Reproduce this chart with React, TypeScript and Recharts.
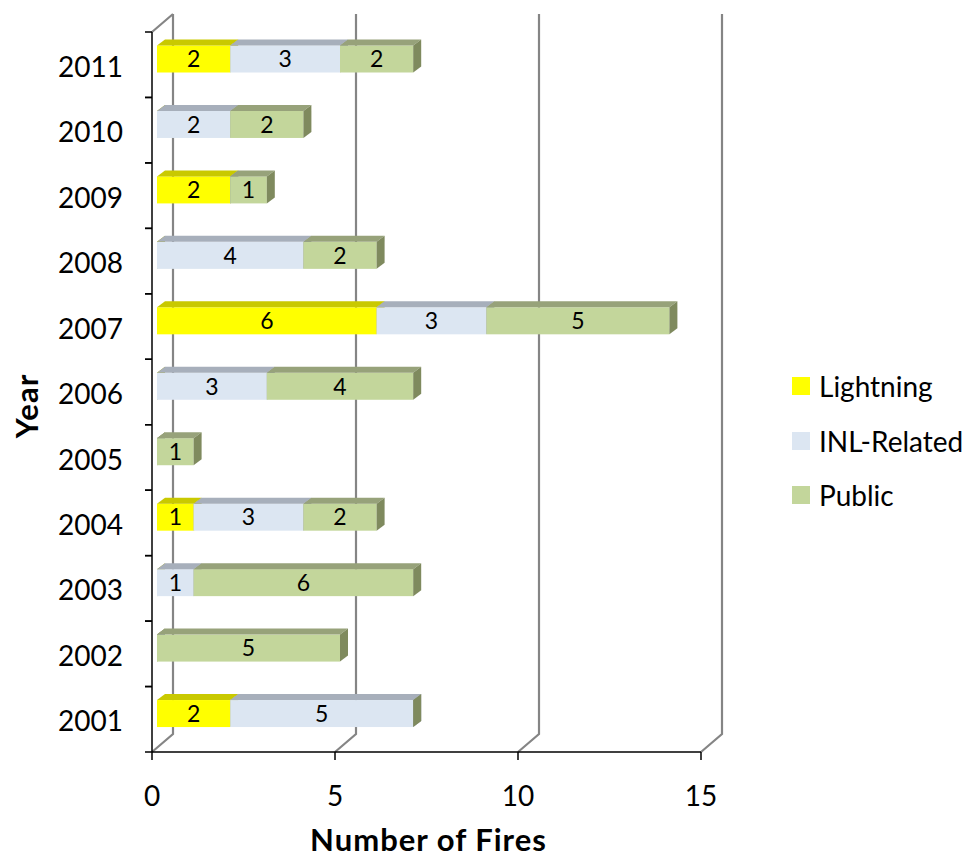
import React from 'react'
import { BarChart, Bar, XAxis, YAxis, CartesianGrid, Legend, LabelList, Label } from 'recharts'

const years = ['2001', '2002', '2003', '2004', '2005', '2006', '2007', '2008', '2009', '2010', '2011']
const lightning = [2, 0, 0, 1, 0, 0, 6, 0, 2, 0, 2]
const inlRelated = [5, 0, 1, 3, 0, 3, 3, 4, 0, 2, 3]
const publicFires = [0, 5, 6, 2, 1, 4, 5, 2, 1, 2, 2]
const xTicks = [0, 5, 10, 15]
const legendOrder = ['Lightning', 'INL-Related', 'Public']

const data = years.map((year, i) => ({
  year,
  lightning: lightning[i],
  inl: inlRelated[i],
  pub: publicFires[i],
}))

// layout of the fake 3d box (front plane = recharts plot area)
const W = 969
const H = 859
const PLOT_LEFT = 152
const PLOT_TOP = 32
const PLOT_BOTTOM = 752
const PLOT_RIGHT = 701
const Y_AXIS_W = 100
const X_AXIS_H = 60
const BAND = (PLOT_BOTTOM - PLOT_TOP) / years.length
const WALL_DX = 21
const WALL_DY = 18
const BAR_DX = 5
const BAR_DY = -5.5
const DEPTH_X = 8
const DEPTH_Y = 6
const FONT = 'Lato, "Open Sans", sans-serif'

const colors = {
  lightning: { front: '#FFFF00', top: '#C9C900', side: '#A8A800' },
  inl: { front: '#DCE6F2', top: '#A7AFBB', side: '#8E97A3' },
  pub: { front: '#C3D69B', top: '#97A27A', side: '#7F8A5E' },
}

const makeBox = (c: { front: string; top: string; side: string }) => (props: any) => {
  const { x, y, width, height } = props
  if (x == null || y == null) return <g />
  const x0 = x + BAR_DX
  const y0 = y + BAR_DY
  const w = Math.max(0, width || 0)
  const x1 = x0 + w
  return (
    <g>
      <rect x={x0} y={y0} width={w} height={height} fill={c.front} />
      <polygon
        points={`${x0},${y0} ${x0 + DEPTH_X},${y0 - DEPTH_Y} ${x1 + DEPTH_X},${y0 - DEPTH_Y} ${x1},${y0}`}
        fill={c.top}
      />
      <polygon
        points={`${x1},${y0} ${x1 + DEPTH_X},${y0 - DEPTH_Y} ${x1 + DEPTH_X},${y0 + height - DEPTH_Y} ${x1},${y0 + height}`}
        fill={c.side}
      />
    </g>
  )
}

const barLabel = (props: any) => {
  const vb = props.viewBox || props
  const { value } = props
  if (!value) return null
  return (
    <text
      x={vb.x + BAR_DX + vb.width / 2}
      y={vb.y + BAR_DY + vb.height / 2}
      dy="0.36em"
      textAnchor="middle"
      fontSize={23}
      fontFamily={FONT}
      fill="#000"
    >
      {value}
    </text>
  )
}

const gridLine = (props: any) => {
  const { x1, y1, y2, index } = props
  const top = Math.min(y1, y2)
  const bottom = Math.max(y1, y2)
  const bx = x1 + WALL_DX
  let d = `M${x1},${bottom} L${bx},${bottom - WALL_DY} L${bx},${top - WALL_DY}`
  if (Math.abs(x1 - PLOT_LEFT) < 1) d += ` M${x1},${top} L${bx},${top - WALL_DY}`
  return <path key={`grid-${index}`} d={d} stroke="#858585" strokeWidth={2.2} fill="none" />
}

const YearTick = (props: any) => {
  const { y, payload } = props
  return (
    <g>
      <line x1={PLOT_LEFT - 7} x2={PLOT_LEFT} y1={y - BAND / 2} y2={y - BAND / 2} stroke="#000" strokeWidth={1.5} />
      <line x1={PLOT_LEFT - 7} x2={PLOT_LEFT} y1={y + BAND / 2} y2={y + BAND / 2} stroke="#000" strokeWidth={1.5} />
      <text x={PLOT_LEFT - 29} y={y + 2} dy="0.36em" textAnchor="end" fontSize={28} fontFamily={FONT} fill="#000">
        {payload.value}
      </text>
    </g>
  )
}

const LegendBox = (props: any) => {
  const items = [...(props.payload || [])].sort(
    (a: any, b: any) => legendOrder.indexOf(a.value) - legendOrder.indexOf(b.value)
  )
  return (
    <div style={{ fontFamily: FONT, fontSize: 28, color: '#000' }}>
      {items.map((it: any) => (
        <div key={it.value} style={{ display: 'flex', alignItems: 'center', height: 54.5 }}>
          <span style={{ display: 'inline-block', width: 18, height: 18, background: it.color, marginRight: 9 }} />
          <span>{it.value}</span>
        </div>
      ))}
    </div>
  )
}

export default function App() {
  return (
    <div style={{ position: 'absolute', left: 0, top: 0, background: '#fff' }}>
      <BarChart
        width={W}
        height={H}
        data={data}
        layout="vertical"
        barSize={27}
        margin={{
          top: PLOT_TOP,
          left: PLOT_LEFT - Y_AXIS_W,
          right: W - PLOT_RIGHT,
          bottom: H - PLOT_BOTTOM - X_AXIS_H,
        }}
      >
        <CartesianGrid horizontal={false} vertical={gridLine} stroke="#858585" />
        <XAxis
          type="number"
          domain={[0, 15]}
          ticks={xTicks}
          height={X_AXIS_H}
          axisLine={{ stroke: '#000', strokeWidth: 1.5 }}
          tickLine={{ stroke: '#000', strokeWidth: 1.5 }}
          tickSize={8}
          tickMargin={26}
          tick={{ fontSize: 28, fontFamily: FONT, fill: '#000' }}
        >
          <Label
            content={() => (
              <text
                x={(PLOT_LEFT + PLOT_RIGHT) / 2 + 2}
                y={840}
                dy="0.36em"
                textAnchor="middle"
                fontSize={31}
                fontWeight="bold"
                letterSpacing={1}
                fontFamily={FONT}
                fill="#000"
              >
                Number of Fires
              </text>
            )}
          />
        </XAxis>
        <YAxis
          type="category"
          dataKey="year"
          reversed
          width={Y_AXIS_W}
          axisLine={{ stroke: '#000', strokeWidth: 1.5 }}
          tickLine={false}
          tick={<YearTick />}
          interval={0}
        >
          <Label
            content={() => (
              <text
                x={27}
                y={406}
                dy="0.36em"
                textAnchor="middle"
                fontSize={31}
                fontWeight="bold"
                letterSpacing={1}
                fontFamily={FONT}
                fill="#000"
                transform="rotate(-90, 27, 406)"
              >
                Year
              </text>
            )}
          />
        </YAxis>
        <Legend
          layout="vertical"
          align="center"
          verticalAlign="middle"
          content={<LegendBox />}
          wrapperStyle={{ left: 792, top: 359, width: 180 }}
        />
        <Bar dataKey="lightning" name="Lightning" stackId="a" fill={colors.lightning.front} shape={makeBox(colors.lightning)} isAnimationActive={false}>
          <LabelList dataKey="lightning" content={barLabel} />
        </Bar>
        <Bar dataKey="inl" name="INL-Related" stackId="a" fill={colors.inl.front} shape={makeBox(colors.inl)} isAnimationActive={false}>
          <LabelList dataKey="inl" content={barLabel} />
        </Bar>
        <Bar dataKey="pub" name="Public" stackId="a" fill={colors.pub.front} shape={makeBox(colors.pub)} isAnimationActive={false}>
          <LabelList dataKey="pub" content={barLabel} />
        </Bar>
      </BarChart>
    </div>
  )
}
